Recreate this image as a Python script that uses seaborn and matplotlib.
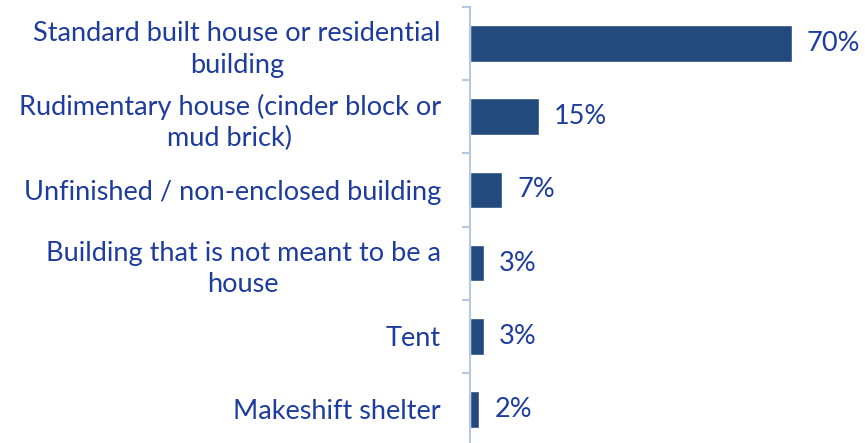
import numpy as np
import pandas as pd
import seaborn as sns
import matplotlib.pyplot as plt

# data
categories = [
    "Standard built house or residential\nbuilding",
    "Rudimentary house (cinder block or\nmud brick)",
    "Unfinished / non-enclosed building",
    "Building that is not meant to be a\nhouse",
    "Tent",
    "Makeshift shelter",
]
shares = [70, 15, 7, 3, 3, 2]

bar_color = "#234A7C"
text_color = "#1D3C9C"
axis_color = "#B4C7E7"

sns.set_theme(style="white")
plt.rcParams["font.family"] = ["Lato", "DejaVu Sans"]

df = pd.DataFrame({"category": categories, "share": shares})

fig = plt.figure(figsize=(8.65, 4.43), dpi=100)
ax = fig.add_axes([470 / 865, -3 / 443, 395 / 865, 439 / 443])

sns.barplot(data=df, x="share", y="category", color=bar_color, width=0.5,
            orient="h", ax=ax, saturation=1)

ax.set_xlim(0, 86)
ax.set_xlabel("")
ax.set_ylabel("")
ax.set_xticks([])

for side in ["top", "right", "bottom"]:
    ax.spines[side].set_visible(False)
ax.spines["left"].set_color(axis_color)
ax.spines["left"].set_linewidth(1.5)

# ticks at category boundaries, labels at centres
n = len(categories)
ax.set_yticks(np.arange(n + 1) - 0.5, minor=True)
ax.tick_params(axis="y", which="minor", length=6, width=1.5, color=axis_color, left=True)
ax.tick_params(axis="y", which="major", length=0, pad=21, labelsize=19.5,
               labelcolor=text_color)
for t in ax.get_yticklabels():
    t.set_multialignment("center")
    t.set_linespacing(1.33)

ax.bar_label(ax.containers[0], labels=[f"{v}%" for v in shares], padding=11,
             fontsize=19.5, color=text_color)

fig.savefig("out.png", dpi=100)
